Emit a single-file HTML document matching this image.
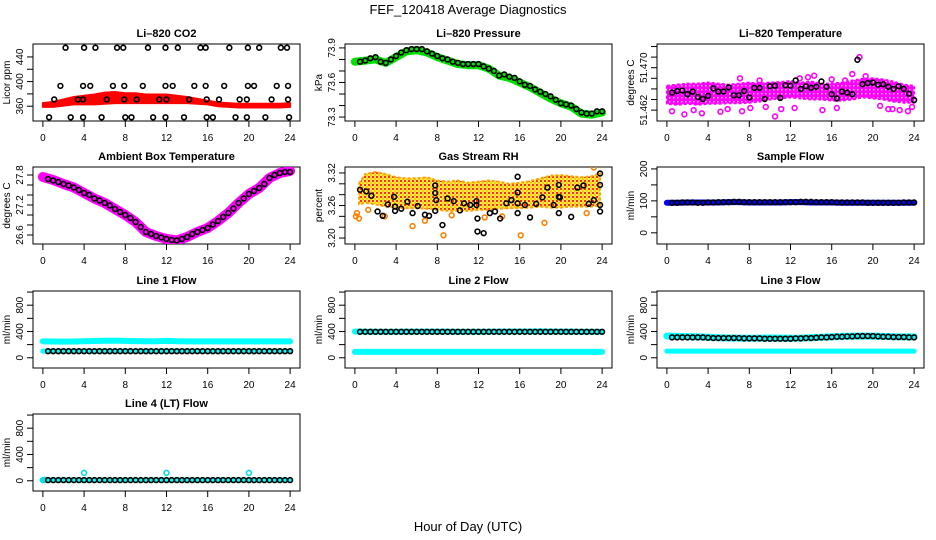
<!DOCTYPE html>
<html><head><meta charset="utf-8"><style>
html,body{margin:0;padding:0;background:#fff;}
svg{display:block;font-family:"Liberation Sans",Arial,sans-serif;}
</style></head><body>
<svg id="c" width="936" height="540" viewBox="0 0 936 540" xmlns="http://www.w3.org/2000/svg">
<defs>
<pattern id="rhpat" width="4" height="4" patternUnits="userSpaceOnUse">
<rect width="4" height="4" fill="#ffe860"/><rect width="2" height="2" fill="#ff3000"/><rect x="2" y="2" width="2" height="2" fill="#ffd000"/>
</pattern>
<pattern id="mgpat" width="4" height="4" patternUnits="userSpaceOnUse">
<rect width="4" height="4" fill="#ff00ff"/><rect x="1" y="1" width="1.5" height="1.5" fill="#ffb0ff"/>
</pattern>
</defs>
<text x="468" y="14" font-size="13" text-anchor="middle">FEF_120418  Average Diagnostics</text>
<text x="468" y="531" font-size="13" text-anchor="middle">Hour of Day (UTC)</text>
</svg>
<script>
// ---------- data ----------
const hours = [0,1,2,3,4,5,6,7,8,9,10,11,12,13,14,15,16,17,18,19,20,21,22,23,24];
const halfHours = [0.5,1,1.5,2,2.5,3,3.5,4,4.5,5,5.5,6,6.5,7,7.5,8,8.5,9,9.5,10,10.5,11,11.5,12,12.5,13,13.5,14,14.5,15,15.5,16,16.5,17,17.5,18,18.5,19,19.5,20,20.5,21,21.5,22,22.5,23,23.5,24];
const xTicks = [0,4,8,12,16,20,24];

// CO2
const co2RedMid = [362,363,366,369,370,371,373,374,373,373,372,372,372,371,370,368,366,363,362,361,361,361,361,361,362];
const co2RedHalf = [3,4,5,6,7,8,9,9,8,8,7,7,7,6,5,4,3,3,3,3,3,3,3,3,3];
const co2TopT = [2.2,4.0,5.1,7.2,7.8,10.2,11.9,13.1,15.3,15.8,18.1,19.9,21.0,23.1,23.7];
const co2TopV = [455,455,455,455,455,455,455,455,455,455,455,455,455,455,455];
const co2MidT = [1.7,3.9,4.6,6.8,7.9,9.7,11.9,12.6,14.7,15.8,17.6,19.9,20.5,22.7,23.8];
const co2MidV = [393,393,393,393,393,393,393,393,393,393,393,393,393,393,393];
const co2LowT = [1.1,3.4,3.9,6.2,7.9,9.1,11.3,12.0,14.2,15.9,17.1,19.1,19.8,22.2,23.8];
const co2LowV = [371,371,371,371,371,371,371,371,371,371,371,371,371,371,371];
const co2BotT = [0.6,2.7,3.9,5.7,8.0,8.6,10.7,11.9,13.7,15.9,16.5,18.7,19.8,21.6,23.9];
const co2BotV = [342,342,342,342,342,342,342,342,342,342,342,342,342,342,342];

// Pressure
const presGreen = [73.78,73.79,73.80,73.77,73.82,73.87,73.88,73.86,73.82,73.79,73.76,73.75,73.75,73.72,73.66,73.64,73.60,73.56,73.51,73.46,73.42,73.39,73.33,73.32,73.34];
const presBlack = [73.78,73.79,73.81,73.82,73.78,73.77,73.80,73.83,73.86,73.88,73.89,73.89,73.89,73.87,73.85,73.83,73.81,73.80,73.78,73.77,73.76,73.76,73.76,73.76,73.74,73.72,73.70,73.66,73.67,73.65,73.64,73.61,73.58,73.57,73.54,73.52,73.50,73.48,73.45,73.42,73.41,73.40,73.37,73.34,73.33,73.33,73.35,73.35];

// Li-820 temperature
const tempLo = [51.4632,51.4630,51.4632,51.4630,51.4632,51.4632,51.4633,51.4633,51.4634,51.4636,51.4640,51.4642,51.4644,51.4642,51.4640,51.4640,51.4638,51.4638,51.4640,51.4644,51.4642,51.4640,51.4636,51.4634,51.4634];
const tempHi = [51.4666,51.4668,51.4670,51.4670,51.4672,51.4670,51.4668,51.4670,51.4672,51.4670,51.4672,51.4673,51.4675,51.4672,51.4674,51.4670,51.4670,51.4672,51.4676,51.4679,51.4680,51.4678,51.4674,51.4668,51.4666];
const tempOutT = [0.5,1.7,2.6,3.4,5.2,5.9,7.3,8.1,9.6,10.5,11.1,12.4,13.7,14.3,15.1,16.5,17.3,18.7,19.3,20.7,21.5,22.6,23.4,23.8,7.1,9.0,12.9,16.0,18.0,21.9];
const tempOutV = [51.4618,51.4612,51.4620,51.4614,51.4617,51.4622,51.4618,51.4624,51.4626,51.4608,51.4622,51.4624,51.4682,51.4685,51.4620,51.4624,51.4676,51.4720,51.4684,51.4628,51.4622,51.4620,51.4618,51.4626,51.4680,51.4676,51.4680,51.4678,51.4688,51.4622];
const tempBlack = [51.4653,51.4656,51.4657,51.4650,51.4655,51.4645,51.4641,51.4647,51.4661,51.4655,51.4655,51.4663,51.4648,51.4648,51.4656,51.4644,51.4662,51.4662,51.4641,51.4665,51.4666,51.4643,51.4667,51.4666,51.4676,51.4660,51.4665,51.4662,51.4664,51.4674,51.4664,51.4650,51.4642,51.4655,51.4653,51.4650,51.4715,51.4669,51.4671,51.4672,51.4668,51.4669,51.4664,51.4660,51.4665,51.4660,51.4651,51.4639];

// Ambient box temperature
const ambMagenta = [27.76,27.70,27.62,27.55,27.44,27.33,27.24,27.12,27.00,26.86,26.66,26.58,26.52,26.49,26.56,26.66,26.74,26.88,27.04,27.24,27.42,27.54,27.74,27.84,27.88];
const ambBlack = [27.72,27.69,27.66,27.62,27.59,27.55,27.50,27.44,27.40,27.33,27.29,27.24,27.19,27.12,27.06,27.00,26.94,26.86,26.76,26.66,26.62,26.58,26.55,26.52,26.50,26.49,26.52,26.56,26.62,26.66,26.70,26.74,26.81,26.88,26.96,27.04,27.13,27.24,27.33,27.42,27.48,27.54,27.62,27.74,27.80,27.84,27.86,27.86];

// Gas stream RH
const rhLo = [3.262,3.265,3.262,3.258,3.256,3.255,3.255,3.254,3.252,3.250,3.250,3.250,3.252,3.252,3.254,3.255,3.255,3.256,3.258,3.256,3.256,3.258,3.258,3.258,3.260];
const rhHi = [3.300,3.318,3.322,3.318,3.312,3.310,3.310,3.312,3.306,3.304,3.306,3.302,3.304,3.306,3.304,3.300,3.302,3.305,3.310,3.315,3.316,3.314,3.312,3.314,3.320];
const rhOutT = [0.1,0.2,0.4,5.6,6.8,8.6,12.6,16.1,18.4,22.5,23.2,2.9,9.4,14.3,1.3];
const rhOutV = [3.240,3.246,3.236,3.222,3.232,3.205,3.238,3.205,3.228,3.246,3.330,3.240,3.242,3.240,3.252];
const rhBlackT = [0.5,1.1,1.6,2.2,2.7,3.2,3.8,3.9,3.9,4.5,5.1,5.6,6.1,6.8,7.2,7.8,7.8,7.8,7.9,8.5,9.0,9.6,10.2,10.6,11.2,11.8,11.8,11.9,11.9,12.5,13.1,13.6,14.1,14.7,15.2,15.8,15.8,15.8,15.8,16.5,17.0,17.6,18.2,18.7,19.3,19.8,19.8,19.9,19.8,21.0,21.6,22.2,22.7,23.2,23.8,23.8,23.8,23.8];
const rhBlackV = [3.289,3.286,3.278,3.249,3.241,3.262,3.276,3.258,3.250,3.254,3.267,3.246,3.259,3.243,3.241,3.297,3.283,3.250,3.270,3.224,3.273,3.268,3.251,3.264,3.261,3.261,3.268,3.236,3.212,3.209,3.246,3.249,3.236,3.264,3.270,3.313,3.284,3.264,3.246,3.261,3.238,3.263,3.275,3.293,3.261,3.298,3.276,3.275,3.246,3.239,3.293,3.297,3.263,3.270,3.319,3.298,3.261,3.249];

// Sample flow
const sampleBlue = [94,94,95,95,95,95,96,96,95,95,95,95,96,96,95,95,95,94,94,94,94,94,94,94,94];
const sampleBlack = [94,94,95,95,95,94,94,95,95,96,96,96,97,97,96,96,96,96,96,96,96,96,96,96,96,97,97,97,96,96,96,96,95,95,95,95,95,95,94,94,94,94,94,94,94,95,95,95];

// Line 1 flow
const l1Cyan = [250,248,246,248,252,255,258,260,256,254,252,252,256,252,250,250,250,250,250,250,250,250,250,250,250];
const l1CyanLow = [100,100,100,100,100,100,100,100,100,100,100,100,100,100,100,100,100,100,100,100,100,100,100,100,100];
const l1Black = [100,100,100,100,100,100,100,100,100,100,100,100,100,100,100,100,100,100,100,100,100,100,100,100,100,100,100,100,100,100,100,100,100,100,100,100,100,100,100,100,100,100,100,100,100,100,100,100];

// Line 2 flow
const l2Cyan = [400,398,396,396,396,398,398,398,398,398,396,396,396,398,398,400,400,400,402,400,398,398,396,396,396];
const l2CyanLow = [90,90,90,90,90,90,90,90,90,90,90,90,90,90,90,90,90,90,90,90,90,90,90,90,90];
const l2Black = [395,395,395,395,395,395,395,395,395,395,395,395,395,395,395,395,395,395,395,395,395,395,395,395,395,395,395,395,395,395,395,395,395,395,395,395,395,395,395,395,395,395,395,395,395,395,395,395];

// Line 3 flow
const l3Cyan = [330,325,322,318,312,305,300,298,296,298,300,298,296,298,305,312,318,325,330,330,330,325,320,318,318];
const l3CyanLow = [100,100,100,100,100,100,100,100,100,100,100,100,100,100,100,100,100,100,100,100,100,100,100,100,100];
const l3Black = [310,310,310,310,310,310,310,305,300,300,300,300,300,300,295,295,295,295,290,290,290,290,290,290,295,295,300,300,305,310,310,315,320,320,325,325,330,330,330,330,325,320,320,315,315,315,310,310];

// Line 4 flow
const l4Cyan = [10,10,10,10,10,10,10,10,10,10,10,10,10,10,10,10,10,10,10,10,10,10,10,10,10];
const l4OutT = [0,0.2,4,12,20];
const l4OutV = [10,15,120,120,120];
const l4Black = [10,10,10,10,10,10,10,10,10,10,10,10,10,10,10,10,10,10,10,10,10,10,10,10,10,10,10,10,10,10,10,10,10,10,10,10,10,10,10,10,10,10,10,10,10,10,10,10];

// ---------- drawing ----------
const NS = 'http://www.w3.org/2000/svg';
const svg = document.getElementById('c');
function mk(tag, attrs, parent){
  const e = document.createElementNS(NS, tag);
  for (const k in attrs) e.setAttribute(k, attrs[k]);
  (parent||svg).appendChild(e);
  return e;
}
const COLW = 312, LEFT0 = 33, BW = 267, BH = 77;
const ROWTOP = [44,167,291,414];

function makePanel(cfg){
  const g = mk('g', {});
  
  
  const L = LEFT0 + COLW*cfg.col, T = ROWTOP[cfg.row], R = L+BW, B = T+BH;
  const xpad = 24*0.04;
  const sx = v => L + (v + xpad)/(24 + 2*xpad)*BW;
  const sy = v => B - (v - cfg.ymin)/(cfg.ymax - cfg.ymin)*BH;
  const box = mk('rect', {x:L, y:T, width:BW, height:BH, fill:'none', stroke:'#000', 'stroke-width':1}, g);
  
  
  const ttl = mk('text', {x:(L+R)/2, y:T-7, 'font-size':11, 'font-weight':'bold', 'text-anchor':'middle'}, g);
  ttl.textContent = cfg.title;
  
  
  const yl = mk('text', {transform:`translate(${L-23},${(T+B)/2}) rotate(-90)`, 'font-size':10, 'text-anchor':'middle'}, g);
  yl.textContent = cfg.ylab;
  
  
  mk('line', {x1:sx(xTicks[0]), x2:sx(xTicks[xTicks.length-1]), y1:B, y2:B, stroke:'#000'}, g);
  xTicks.forEach(t => {
    const tk = mk('line', {x1:sx(t), x2:sx(t), y1:B, y2:B+6, stroke:'#000'}, g);
    
    
    const tl = mk('text', {x:sx(t), y:B+20, 'font-size':10, 'text-anchor':'middle'}, g);
    tl.textContent = String(t);
    
    
  });
  const yt = cfg.yTicks;
  mk('line', {x1:L, x2:L, y1:sy(yt[0]), y2:sy(yt[yt.length-1]), stroke:'#000'}, g);
  yt.forEach(v => {
    const tk = mk('line', {x1:L-6, x2:L, y1:sy(v), y2:sy(v), stroke:'#000'}, g);
    
    
  });
  cfg.yLabels.forEach(v => {
    const tl = mk('text', {transform:`translate(${L-10},${sy(v)}) rotate(-90)`, 'font-size':10, 'text-anchor':'middle'}, g);
    tl.textContent = cfg.fmt(v);
    
    
  });
  const clip = 'clip-' + cfg.name;
  const cp = mk('clipPath', {id:clip}, g);
  mk('rect', {x:L, y:T, width:BW, height:BH}, cp);
  const dg = mk('g', {'clip-path':`url(#${clip})`}, g);
  
  
  return {g:dg, sx, sy};
}
function band(p, ts, lo, hi, fill, edge, name, dashed){
  const pts = ts.map((t,i)=>`${p.sx(t)},${p.sy(hi[i])}`).concat(ts.map((t,i)=>`${p.sx(t)},${p.sy(lo[i])}`).reverse());
  const attrs = {points:pts.join(' '), fill:fill, stroke:edge, 'stroke-width':2, 'stroke-linejoin':'round'};
  if (dashed) attrs['stroke-dasharray'] = '3 2';
  const e = mk('polygon', attrs, p.g);
  
  
}
function thickLine(p, ts, vs, color, w, name){
  const e = mk('polyline', {points:ts.map((t,i)=>`${p.sx(t)},${p.sy(vs[i])}`).join(' '), fill:'none', stroke:color, 'stroke-width':w, 'stroke-linejoin':'round', 'stroke-linecap':'round'}, p.g);
  
  
}
function pts(p, ts, vs, color, name, r){
  ts.forEach((t,i) => {
    const c = mk('circle', {cx:p.sx(t), cy:p.sy(vs[i]), r:r||2.4, fill:'none', stroke:color, 'stroke-width':1.6}, p.g);
    
    
  });
}
const f0 = v => String(v);
const f1 = v => v.toFixed(1);
const f2 = v => v.toFixed(2);
const f3 = v => v.toFixed(3);
const flowTicks = [0,200,400,600,800,1000], flowLabels = [0,400,800];

let p = makePanel({name:'panel-li820-co2', col:0,row:0, title:'Li\u2013820 CO2', ylab:'Licor ppm', ymin:336, ymax:461, yTicks:[360,380,400,420,440], yLabels:[360,400,440], fmt:f0});
band(p, hours, co2RedMid.map((m,i)=>m-co2RedHalf[i]), co2RedMid.map((m,i)=>m+co2RedHalf[i]), '#ff0000', '#ff0000', 'co2-red-cloud', false);
pts(p, co2TopT, co2TopV, '#000', 'co2-point');
pts(p, co2MidT, co2MidV, '#000', 'co2-point');
pts(p, co2LowT, co2LowV, '#000', 'co2-point');
pts(p, co2BotT, co2BotV, '#000', 'co2-point');

p = makePanel({name:'panel-li820-pressure', col:1,row:0, title:'Li\u2013820 Pressure', ylab:'kPa', ymin:73.266, ymax:73.934, yTicks:[73.3,73.4,73.5,73.6,73.7,73.8,73.9], yLabels:[73.3,73.6,73.9], fmt:f1});
thickLine(p, hours, presGreen, '#00e000', 8, 'pressure-green-cloud');
pts(p, halfHours, presBlack, '#000', 'pressure-point');

p = makePanel({name:'panel-li820-temperature', col:2,row:0, title:'Li\u2013820 Temperature', ylab:'degrees C', ymin:51.45995, ymax:51.47447, yTicks:[51.462,51.464,51.466,51.468,51.470,51.472,51.474], yLabels:[51.462,51.470], fmt:f3});
band(p, hours, tempLo, tempHi, 'url(#mgpat)', '#ff00ff', 'temperature-magenta-cloud', true);
pts(p, tempOutT, tempOutV, '#ff00ff', 'temperature-magenta-point');
pts(p, halfHours, tempBlack, '#000', 'temperature-point');

p = makePanel({name:'panel-ambient-box-temperature', col:0,row:1, title:'Ambient Box Temperature', ylab:'degrees C', ymin:26.42, ymax:27.96, yTicks:[26.6,26.8,27.0,27.2,27.4,27.6,27.8], yLabels:[26.6,27.2,27.8], fmt:f1});
thickLine(p, hours, ambMagenta, '#ff00ff', 10, 'ambient-magenta-cloud');
pts(p, halfHours, ambBlack, '#000', 'ambient-point');

p = makePanel({name:'panel-gas-stream-rh', col:1,row:1, title:'Gas Stream RH', ylab:'percent', ymin:3.189, ymax:3.331, yTicks:[3.20,3.22,3.24,3.26,3.28,3.30,3.32], yLabels:[3.20,3.26,3.32], fmt:f2});
band(p, hours.map(h=>Math.min(23.8,Math.max(0.4,h))), rhLo, rhHi, 'url(#rhpat)', '#ffa000', 'rh-orange-cloud', true);
pts(p, rhOutT, rhOutV, '#ff8000', 'rh-orange-point');
pts(p, rhBlackT, rhBlackV, '#000', 'rh-point');

p = makePanel({name:'panel-sample-flow', col:2,row:1, title:'Sample Flow', ylab:'ml/min', ymin:-35, ymax:206, yTicks:[0,50,100,150,200], yLabels:[0,100,200], fmt:f0});
thickLine(p, hours, sampleBlue, '#0000ff', 6, 'sample-blue-cloud');
pts(p, halfHours, sampleBlack, '#000', 'sample-point');

p = makePanel({name:'panel-line1-flow', col:0,row:2, title:'Line 1 Flow', ylab:'ml/min', ymin:-156, ymax:1016, yTicks:flowTicks, yLabels:flowLabels, fmt:f0});
thickLine(p, hours, l1Cyan, '#00ffff', 6, 'line1-cyan-cloud');
thickLine(p, hours, l1CyanLow, '#00ffff', 5, 'line1-cyan-low');
pts(p, halfHours, l1Black, '#000', 'line1-point');

p = makePanel({name:'panel-line2-flow', col:1,row:2, title:'Line 2 Flow', ylab:'ml/min', ymin:-156, ymax:1016, yTicks:flowTicks, yLabels:flowLabels, fmt:f0});
thickLine(p, hours, l2Cyan, '#00ffff', 6, 'line2-cyan-cloud');
thickLine(p, hours, l2CyanLow, '#00ffff', 6, 'line2-cyan-low');
pts(p, halfHours, l2Black, '#000', 'line2-point');

p = makePanel({name:'panel-line3-flow', col:2,row:2, title:'Line 3 Flow', ylab:'ml/min', ymin:-156, ymax:1016, yTicks:flowTicks, yLabels:flowLabels, fmt:f0});
thickLine(p, hours, l3Cyan, '#00ffff', 7, 'line3-cyan-cloud');
thickLine(p, hours, l3CyanLow, '#00ffff', 5, 'line3-cyan-low');
pts(p, halfHours, l3Black, '#000', 'line3-point');

p = makePanel({name:'panel-line4-flow', col:0,row:3, title:'Line 4 (LT) Flow', ylab:'ml/min', ymin:-156, ymax:1016, yTicks:flowTicks, yLabels:flowLabels, fmt:f0});
thickLine(p, hours, l4Cyan, '#00ffff', 5, 'line4-cyan-cloud');
pts(p, l4OutT, l4OutV, '#00e0e0', 'line4-cyan-point');
pts(p, halfHours, l4Black, '#000', 'line4-point');
</script>
</body></html>
